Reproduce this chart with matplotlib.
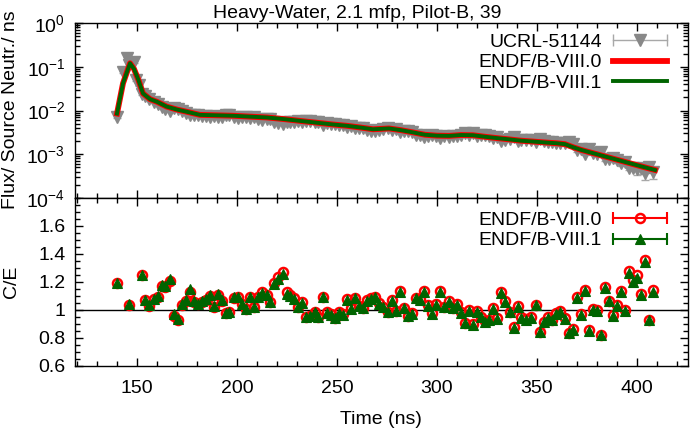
import matplotlib
matplotlib.use("Agg")
import matplotlib.pyplot as plt
from matplotlib.lines import Line2D
from matplotlib.legend_handler import HandlerBase
from matplotlib.ticker import MultipleLocator, LogLocator, NullFormatter, FuncFormatter

plt.rcParams['font.family'] = ['Liberation Sans', 'DejaVu Sans']
plt.rcParams['font.size'] = 14
plt.rcParams['mathtext.fontset'] = 'custom'
plt.rcParams['mathtext.rm'] = 'Liberation Sans'
plt.rcParams['mathtext.it'] = 'Liberation Sans:italic'
plt.rcParams['mathtext.bf'] = 'Liberation Sans:bold'

# ---- data ----
# calculated flux (ENDF/B-VIII.0 and VIII.1 lie on top of each other)
t_calc = [140.0, 143.0, 146.5, 148.5, 150.7, 153.0, 156.5, 160.0, 164.8, 170.0,
          175.0, 181.5, 190.0, 198.0, 206.5, 215.0, 222.0, 228.0, 235.0, 241.0,
          248.0, 255.0, 262.0, 268.0, 276.0, 282.0, 288.0, 294.0, 300.0, 306.0,
          312.0, 318.0, 324.0, 330.0, 336.0, 342.0, 348.0, 354.0, 360.0, 364.0,
          368.0, 372.0, 376.0, 380.0, 384.0, 388.0, 392.0, 396.0, 400.0, 404.0,
          409.0]
calc_flux = [0.00851, 0.0417, 0.120, 0.0891, 0.0501, 0.0245, 0.0182, 0.0158, 0.0123, 0.0105,
             0.00933, 0.00794, 0.00776, 0.00759, 0.00724, 0.00692, 0.00646, 0.00603, 0.00556, 0.00519,
             0.00479, 0.00447, 0.00407, 0.00372, 0.00389, 0.00355, 0.00316, 0.00279, 0.00266, 0.00263,
             0.00275, 0.00272, 0.00251, 0.00234, 0.00219, 0.00204, 0.00195, 0.00186, 0.00178, 0.00170,
             0.00145, 0.00126, 0.00112, 0.00100, 0.000891, 0.000794, 0.000708, 0.000631, 0.000562, 0.000501,
             0.000437]

# C/E time points
t_ce = [140.0, 146.0, 152.3, 154.0, 156.0, 158.5, 160.3, 162.3, 164.0, 166.3,
        168.3, 170.5, 172.5, 174.5, 176.5, 178.3, 180.3, 182.3, 184.3, 186.5,
        188.5, 190.6, 192.4, 194.4, 196.2, 198.3, 200.3, 202.3, 204.5, 206.5,
        208.5, 210.7, 212.7, 214.8, 216.6, 218.5, 220.7, 222.8, 224.8, 226.6,
        228.4, 230.6, 232.7, 234.7, 236.7, 238.8, 240.7, 242.8, 244.8, 246.8,
        248.9, 250.8, 252.8, 254.9, 256.9, 259.0, 261.0, 263.1, 265.1, 267.1,
        269.2, 271.2, 273.2, 275.3, 277.3, 279.3, 281.4, 283.4, 285.4, 287.5,
        289.5, 291.5, 293.6, 295.6, 297.6, 299.7, 301.7, 303.7, 305.8, 307.8,
        309.8, 311.9, 313.9, 315.9, 318.0, 320.0, 322.0, 324.1, 326.1, 328.1,
        330.2, 332.2, 334.2, 336.3, 338.3, 340.3, 342.0, 344.5, 347.0, 349.6,
        351.6, 353.6, 355.7, 357.7, 359.7, 361.7, 363.8, 365.8, 367.8, 369.8,
        371.8, 373.9, 375.9, 377.9, 379.9, 381.9, 384.0, 386.0, 388.0, 390.0,
        392.0, 394.1, 396.1, 398.1, 400.1, 402.1, 404.2, 406.2, 408.2]

ce_80 = [1.195, 1.036, 1.250, 1.070, 1.030, 1.076, 1.095, 1.170, 1.166, 1.210,
         0.960, 0.930, 1.036, 1.064, 1.130, 1.060, 1.040, 1.060, 1.070, 1.100,
         1.024, 1.110, 1.066, 0.976, 0.983, 1.088, 1.090, 1.040, 1.005, 1.095,
         1.024, 1.095, 1.126, 1.110, 1.060, 1.195, 1.235, 1.272, 1.126, 1.107,
         1.088, 1.024, 1.055, 0.952, 0.960, 0.988, 0.952, 1.095, 0.983, 0.969,
         0.945, 0.983, 0.969, 1.079, 1.012, 1.088, 1.030, 1.017, 1.070, 1.083,
         1.095, 1.048, 1.024, 0.988, 1.070, 0.993, 1.136, 1.017, 0.957, 0.976,
         1.088, 1.079, 1.136, 1.036, 0.976, 1.040, 1.136, 1.024, 1.064, 1.017,
         1.040, 0.983, 0.910, 1.000, 0.898, 0.993, 0.952, 0.921, 0.930, 1.012,
         0.940, 1.126, 1.064, 0.988, 0.876, 1.029, 0.948, 0.935, 0.948, 1.038,
         0.845, 0.917, 0.948, 0.930, 0.978, 0.990, 0.940, 0.838, 0.862, 1.092,
         0.971, 1.143, 0.857, 1.005, 1.000, 0.823, 1.162, 1.067, 0.964, 1.033,
         1.133, 1.000, 1.280, 1.215, 1.250, 1.117, 1.357, 0.930, 1.140]

ce_81 = [1.195, 1.040, 1.252, 1.075, 1.035, 1.082, 1.102, 1.180, 1.175, 1.225,
         0.968, 0.936, 1.042, 1.072, 1.150, 1.066, 1.046, 1.066, 1.078, 1.108,
         1.030, 1.116, 1.070, 0.980, 0.986, 1.090, 1.090, 1.040, 1.005, 1.092,
         1.022, 1.092, 1.120, 1.105, 1.056, 1.188, 1.225, 1.255, 1.116, 1.100,
         1.082, 1.020, 1.050, 0.948, 0.956, 0.984, 0.948, 1.090, 0.980, 0.966,
         0.942, 0.980, 0.966, 1.075, 1.008, 1.084, 1.026, 1.014, 1.066, 1.079,
         1.090, 1.044, 1.020, 0.985, 1.066, 0.990, 1.130, 1.013, 0.954, 0.972,
         1.084, 1.075, 1.130, 1.032, 0.972, 1.036, 1.130, 1.020, 1.060, 1.013,
         1.036, 0.980, 0.906, 0.996, 0.894, 0.989, 0.948, 0.917, 0.926, 1.008,
         0.936, 1.120, 1.060, 0.985, 0.872, 1.025, 0.944, 0.931, 0.944, 1.034,
         0.842, 0.913, 0.944, 0.926, 0.974, 0.986, 0.936, 0.834, 0.858, 1.086,
         0.967, 1.136, 0.853, 1.000, 0.996, 0.819, 1.155, 1.062, 0.960, 1.028,
         1.126, 0.996, 1.262, 1.200, 1.228, 1.110, 1.340, 0.926, 1.132]

# measured flux (UCRL-51144): rise/peak points, then the C/E grid from 152 ns on
t_peak = [140.0, 142.8, 145.0, 146.0, 148.3, 149.5, 150.8]
exp_peak = [0.0071, 0.077, 0.155, 0.111, 0.130, 0.050, 0.038]
exp_tail = [0.0244, 0.0211, 0.0185, 0.0156, 0.0143, 0.0120, 0.0110, 0.00971,
            0.0115, 0.0111, 0.00955, 0.00887, 0.00796, 0.00810, 0.00787, 0.00748, 0.00737, 0.00712,
            0.00762, 0.00699, 0.00723, 0.00786, 0.00775, 0.00696, 0.00688, 0.00713, 0.00729, 0.00661,
            0.00699, 0.00647, 0.00622, 0.00623, 0.00642, 0.00559, 0.00530, 0.00503, 0.00555, 0.00553,
            0.00551, 0.00571, 0.00541, 0.00586, 0.00569, 0.00538, 0.00547, 0.00464, 0.00506, 0.00501,
            0.00502, 0.00474, 0.00471, 0.00414, 0.00431, 0.00390, 0.00401, 0.00394, 0.00364, 0.00348,
            0.00342, 0.00361, 0.00374, 0.00392, 0.00356, 0.00373, 0.00315, 0.00339, 0.00348, 0.00327,
            0.00281, 0.00272, 0.00247, 0.00265, 0.00278, 0.00257, 0.00233, 0.00258, 0.00247, 0.00262,
            0.00261, 0.00280, 0.00301, 0.00274, 0.00303, 0.00267, 0.00271, 0.00273, 0.00264, 0.00237,
            0.00249, 0.00203, 0.00210, 0.00221, 0.00243, 0.00202, 0.00215, 0.00214, 0.00207, 0.00186,
            0.00225, 0.00204, 0.00194, 0.00195, 0.00182, 0.00177, 0.00181, 0.00189, 0.00169, 0.00125,
            0.00131, 0.00104, 0.00131, 0.00105, 0.00100, 0.00115, 0.000767, 0.000788, 0.000824, 0.000726,
            0.000625, 0.000667, 0.000492, 0.000489, 0.000449, 0.000474, 0.000368, 0.000505, 0.000390]
exp_err_pct = [6, 6, 5, 5, 5, 5, 5,
               5, 5, 5, 5, 5, 5, 5, 5,
               5, 5, 5, 5, 5, 5, 5, 5, 5, 5,
               5, 5, 5, 5, 5, 5, 5, 5, 5, 5,
               5, 5, 5, 5, 5, 5, 5, 5, 5, 5,
               5, 5, 5, 5, 5, 5, 5, 5, 5, 5,
               5, 5, 5, 5, 5, 5, 5, 5, 5, 5,
               5, 5, 5, 5, 5, 5, 5, 5, 5, 5,
               5, 5, 5, 5, 5, 5, 5, 5, 5, 5,
               5, 5, 5, 5, 5, 5, 5, 5, 5, 5,
               5, 5, 5, 5, 5, 5, 5, 5, 5, 5,
               5, 5, 5, 5, 8, 8, 8, 8, 8, 8,
               8, 8, 8, 8, 8, 8, 8, 12, 12, 12,
               12, 12, 12, 12, 25, 25, 30, 25, 30]

t_exp = t_peak + t_ce[2:]
exp_flux = exp_peak + exp_tail
exp_err = [v * p / 100.0 for v, p in zip(exp_flux, exp_err_pct)]


class ErrbarHandler(HandlerBase):
    # gnuplot-like key sample: horizontal bar with end caps and the point in the middle
    def create_artists(self, legend, orig_handle, xdescent, ydescent, width, height, fontsize, trans):
        y = (height - ydescent) / 2
        x0, x1 = -xdescent, -xdescent + width
        c = orig_handle.get_color()
        lw = orig_handle.get_linewidth()
        bar = Line2D([x0, x1], [y, y], color=c, lw=lw)
        caps = Line2D([x0, x1], [y, y], ls='none', marker='|', ms=9, mew=lw, color=c)
        mk = Line2D([(x0 + x1) / 2], [y], ls='none', marker=orig_handle.get_marker(),
                    ms=orig_handle.get_markersize(), mfc=orig_handle.get_markerfacecolor(),
                    mec=orig_handle.get_markeredgecolor(), mew=orig_handle.get_markeredgewidth())
        for a in (bar, caps, mk):
            a.set_transform(trans)
        return [bar, caps, mk]


W, H = 692, 429
fig = plt.figure(figsize=(W / 100, H / 100), dpi=100)
ax1 = fig.add_axes([75 / W, 1 - 198 / H, 613 / W, 175 / H])
ax2 = fig.add_axes([75 / W, 1 - 366 / H, 613 / W, 168 / H], sharex=ax1)

red = '#ff0000'
green = '#006400'

# top panel
ax1.errorbar(t_exp, exp_flux, yerr=exp_err, fmt='v', ms=9, color='#888888',
             ecolor='#a8a8a8', elinewidth=1, capsize=3, zorder=2)
ax1.plot(t_calc, calc_flux, color=red, lw=4.2, zorder=3)
ax1.plot(t_calc, calc_flux, color=green, lw=2.8, zorder=4)
ax1.set_yscale('log')
ax1.set_ylim(1e-4, 1)
ax1.yaxis.set_major_locator(LogLocator(base=10, numticks=10))
ax1.yaxis.set_minor_locator(LogLocator(base=10, subs=range(2, 10), numticks=10))
ax1.yaxis.set_minor_formatter(NullFormatter())

# bottom panel
ax2.axhline(1.0, color='black', lw=1, zorder=1)
ax2.plot(t_ce, ce_80, 'o', ms=6.5, mfc='none', mec=red, mew=1.8, zorder=2)
ax2.plot(t_ce, ce_81, '^', ms=7.5, mfc=green, mec=green, mew=0.8, zorder=3)
ax2.set_ylim(0.6, 1.8)
ax2.set_yticks([0.6, 0.8, 1.0, 1.2, 1.4, 1.6])
ax2.yaxis.set_minor_locator(MultipleLocator(0.05))
ax2.yaxis.set_major_formatter(FuncFormatter(lambda v, p: '%g' % round(v, 2)))

ax2.set_xlim(119, 425.5)
ax2.xaxis.set_major_locator(MultipleLocator(50))
ax2.xaxis.set_minor_locator(MultipleLocator(10))

for ax in (ax1, ax2):
    ax.tick_params(which='both', direction='in', top=True, right=True, width=1)
    ax.tick_params(which='major', length=6)
    ax.tick_params(which='minor', length=3.5)
    ax.tick_params(axis='y', pad=7)
    ax.tick_params(axis='x', pad=10)
    for s in ax.spines.values():
        s.set_linewidth(1.0)
ax1.tick_params(labelbottom=False)

# texts
fig.text(357 / W, 1 - 14 / H, 'Heavy-Water, 2.1 mfp, Pilot-B, 39', ha='center', va='center')
fig.text(11 / W, 1 - 110 / H, 'Flux/ Source Neutr./ ns', rotation=90, ha='center', va='center')
fig.text(12 / W, 1 - 282 / H, 'C/E', rotation=90, ha='center', va='center')
fig.text(381 / W, 1 - 420 / H, 'Time (ns)', ha='center', va='center')

# legends
h_exp = Line2D([], [], color='#a8a8a8', lw=1, marker='v', ms=9, mfc='#888888', mec='#888888')
h_80 = Line2D([], [], color=red, lw=4.2)
h_81 = Line2D([], [], color=green, lw=2.8)
ax1.legend([h_exp, h_80, h_81], ['UCRL-51144', 'ENDF/B-VIII.0', 'ENDF/B-VIII.1'],
           handler_map={h_exp: ErrbarHandler()}, loc='upper right',
           bbox_to_anchor=(667 / W, 1 - 33 / H), bbox_transform=fig.transFigure,
           frameon=False, markerfirst=False, handlelength=2.8, handletextpad=0.55,
           labelspacing=0.16, borderpad=0, borderaxespad=0)

h_c80 = Line2D([], [], color=red, lw=1.5, marker='o', ms=6.5, mfc='none', mec=red, mew=1.8)
h_c81 = Line2D([], [], color=green, lw=1.5, marker='^', ms=7.5, mfc=green, mec=green, mew=0.8)
ax2.legend([h_c80, h_c81], ['ENDF/B-VIII.0', 'ENDF/B-VIII.1'],
           handler_map={h_c80: ErrbarHandler(), h_c81: ErrbarHandler()}, loc='upper right',
           bbox_to_anchor=(667 / W, 1 - 211 / H), bbox_transform=fig.transFigure,
           frameon=False, markerfirst=False, handlelength=2.8, handletextpad=0.55,
           labelspacing=0.16, borderpad=0, borderaxespad=0)

fig.savefig('out.png', dpi=100)
